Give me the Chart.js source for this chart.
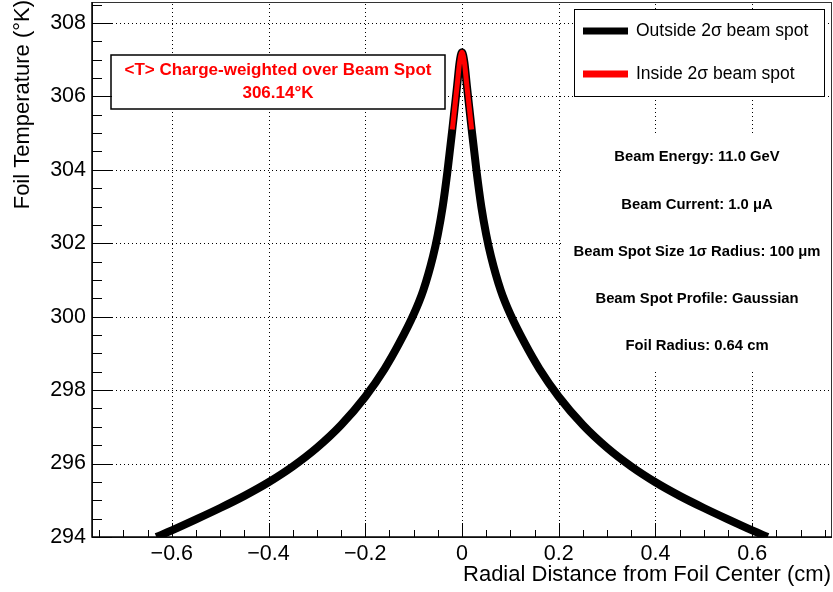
<!DOCTYPE html>
<html>
<head>
<meta charset="utf-8">
<script src="https://cdn.jsdelivr.net/npm/chart.js@4.4.1/dist/chart.umd.min.js"></script>
<style>
    html, body { margin: 0; padding: 0; background: #fff; }
    #wrap { width: 833px; height: 592px; }
</style>
</head>
<body>
<div id="wrap"><canvas id="foilChart" width="833" height="592"></canvas></div>
<script>
// radial distance (cm) and foil temperature (K)
const radius = [-0.632, -0.6, -0.55, -0.5, -0.45, -0.4, -0.35, -0.3, -0.25, -0.2, -0.16, -0.13, -0.1, -0.08, -0.06, -0.05, -0.04, -0.03,
    -0.02, -0.015, -0.01, -0.005, 0, 0.005, 0.01, 0.015, 0.02,
    0.03, 0.04, 0.05, 0.06, 0.08, 0.1, 0.13, 0.16, 0.2, 0.25, 0.3, 0.35, 0.4, 0.45, 0.5, 0.55, 0.6, 0.632];
const temperature = [294.0, 294.18, 294.48, 294.79, 295.12, 295.49, 295.92, 296.43, 297.05, 297.82, 298.58, 299.27, 300.06, 300.72, 301.64, 302.24, 302.99, 303.97,
    305.1, 305.7, 306.3, 306.92, 307.2, 306.92, 306.3, 305.7, 305.1,
    303.97, 302.99, 302.24, 301.64, 300.72, 300.06, 299.27, 298.58, 297.82, 297.05, 296.43, 295.92, 295.49, 295.12, 294.79, 294.48, 294.18, 294.0];
const twoSigma = 0.02;

const xTicks = [-0.6, -0.4, -0.2, 0, 0.2, 0.4, 0.6];
const xTickLabels = ['\u22120.6', '\u22120.4', '\u22120.2', '0', '0.2', '0.4', '0.6'];
const yTicks = [294, 296, 298, 300, 302, 304, 306, 308];
const yTickLabels = ['294', '296', '298', '300', '302', '304', '306', '308'];

const legendLabels = ['Outside 2\u03c3 beam spot', 'Inside 2\u03c3 beam spot'];
const meanLines = ['<T> Charge-weighted over Beam Spot', '306.14\u00b0K'];
const infoLines = [
    'Beam Energy: 11.0 GeV',
    'Beam Current: 1.0 \u03bcA',
    'Beam Spot Size 1\u03c3 Radius: 100 \u03bcm',
    'Beam Spot Profile: Gaussian',
    'Foil Radius: 0.64 cm'
];

const FONT = '"Liberation Sans", Arial, Helvetica, sans-serif';

const outside = radius.map((r, i) => ({ x: r, y: temperature[i] }));
const inside = outside.filter(p => Math.abs(p.x) <= twoSigma + 1e-9);

// ROOT-like frame: dotted grid, inward ticks, boxes and labels
const rootFrame = {
    id: 'rootFrame',
    beforeDatasetsDraw(chart) {
        const { ctx, chartArea: a, scales: { x, y } } = chart;
        ctx.save();
        ctx.strokeStyle = '#000';
        ctx.lineWidth = 1;
        ctx.setLineDash([1, 3]);
        xTicks.forEach(v => {
            const px = Math.round(x.getPixelForValue(v)) + 0.5;
            ctx.beginPath();
            ctx.moveTo(px, a.bottom);
            ctx.lineTo(px, a.top);
            ctx.stroke();
        });
        yTicks.slice(1).forEach(v => {
            const py = Math.round(y.getPixelForValue(v)) + 0.5;
            ctx.beginPath();
            ctx.moveTo(a.left, py);
            ctx.lineTo(a.right, py);
            ctx.stroke();
        });
        ctx.setLineDash([]);

        // white panels hide the grid
        ctx.fillStyle = '#fff';
        ctx.fillRect(562, 135, 271, 234);
        ctx.fillRect(574, 9, 250, 87);
        ctx.fillRect(111, 55, 334, 54);
        ctx.restore();
    },
    afterDraw(chart) {
        const { ctx, chartArea: a, scales: { x, y } } = chart;
        ctx.save();

        // frame
        ctx.strokeStyle = '#333';
        ctx.lineWidth = 1;
        ctx.strokeRect(a.left + 0.5, a.top + 0.5, a.right - a.left - 1, a.bottom - a.top);
        ctx.strokeStyle = '#000';
        ctx.lineWidth = 1.5;
        ctx.beginPath();
        ctx.moveTo(a.left, a.top);
        ctx.lineTo(a.left, a.bottom);
        ctx.lineTo(a.right, a.bottom);
        ctx.stroke();

        // ticks
        ctx.lineWidth = 1;
        for (let v = 294; v <= 308.6; v += 0.5) {
            const py = Math.round(y.getPixelForValue(v)) + 0.5;
            const len = Math.abs(v - Math.round(v / 2) * 2) < 1e-6 ? 20 : 10;
            ctx.beginPath();
            ctx.moveTo(a.left, py);
            ctx.lineTo(a.left + len, py);
            ctx.stroke();
        }
        for (let k = -15; k <= 15; k++) {
            const v = k * 0.05;
            const px = Math.round(x.getPixelForValue(v)) + 0.5;
            const len = k % 4 === 0 ? 14 : 7;
            ctx.beginPath();
            ctx.moveTo(px, a.bottom);
            ctx.lineTo(px, a.bottom - len);
            ctx.stroke();
        }

        // tick labels
        ctx.fillStyle = '#000';
        ctx.font = '21.5px ' + FONT;
        ctx.textAlign = 'right';
        ctx.textBaseline = 'middle';
        yTicks.forEach((v, i) => ctx.fillText(yTickLabels[i], a.left - 6, y.getPixelForValue(v)));
        ctx.textAlign = 'center';
        ctx.textBaseline = 'alphabetic';
        xTicks.forEach((v, i) => ctx.fillText(xTickLabels[i], x.getPixelForValue(v), 560));

        // axis titles
        ctx.font = '22px ' + FONT;
        ctx.textAlign = 'right';
        ctx.fillText('Radial Distance from Foil Center (cm)', 831, 581);
        ctx.save();
        ctx.translate(29, 0);
        ctx.rotate(-Math.PI / 2);
        ctx.fillText('Foil Temperature (\u00b0K)', 0, 0);
        ctx.restore();

        // legend
        ctx.strokeStyle = '#000';
        ctx.lineWidth = 1;
        ctx.strokeRect(574.5, 9.5, 250, 87);
        ctx.lineWidth = 7;
        ['#000', '#ff0000'].forEach((c, i) => {
            const ly = i === 0 ? 31 : 74;
            ctx.strokeStyle = c;
            ctx.beginPath();
            ctx.moveTo(583, ly);
            ctx.lineTo(628, ly);
            ctx.stroke();
            ctx.fillStyle = '#000';
            ctx.font = '17.5px ' + FONT;
            ctx.textAlign = 'left';
            ctx.textBaseline = 'middle';
            ctx.fillText(legendLabels[i], 636, ly);
        });

        // mean temperature box
        ctx.strokeStyle = '#000';
        ctx.lineWidth = 1.5;
        ctx.strokeRect(111, 55, 334, 54);
        ctx.fillStyle = '#ff0000';
        ctx.font = 'bold 17px ' + FONT;
        ctx.textAlign = 'center';
        ctx.fillText(meanLines[0], 278, 70);
        ctx.fillText(meanLines[1], 278, 93);

        // beam info
        ctx.fillStyle = '#000';
        ctx.font = 'bold 14.8px ' + FONT;
        infoLines.forEach((t, i) => ctx.fillText(t, 697, 157.3 + i * 47.2));

        ctx.restore();
    }
};

new Chart(document.getElementById('foilChart').getContext('2d'), {
    type: 'scatter',
    data: {
        datasets: [
            {
                label: legendLabels[0],
                data: outside,
                showLine: true,
                borderColor: '#000',
                borderWidth: 8,
                borderJoinStyle: 'round',
                cubicInterpolationMode: 'monotone',
                pointRadius: 0,
                order: 2,
            },
            {
                label: legendLabels[1],
                data: inside,
                showLine: true,
                borderColor: '#ff0000',
                borderWidth: 5,
                borderJoinStyle: 'round',
                cubicInterpolationMode: 'monotone',
                pointRadius: 0,
                order: 1,
            },
        ],
    },
    options: {
        responsive: false,
        animation: false,
        layout: { padding: { left: 92, right: 1, top: 2, bottom: 55 } },
        plugins: { legend: { display: false }, tooltip: { enabled: false } },
        scales: {
            x: { type: 'linear', display: false, min: -0.765, max: 0.765 },
            y: { type: 'linear', display: false, min: 294, max: 308.57 },
        },
    },
    plugins: [rootFrame],
});
</script>
</body>
</html>
